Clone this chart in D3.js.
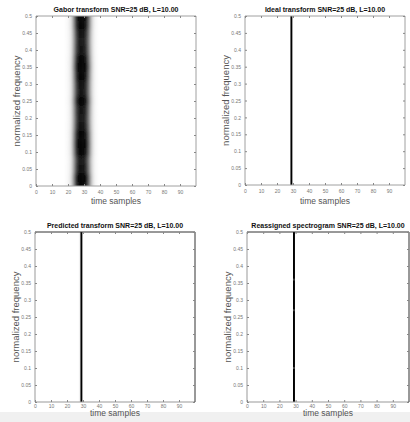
<!DOCTYPE html>
<html>
<head>
<meta charset="utf-8">
<script src="https://cdn.jsdelivr.net/npm/d3@7"></script>
<style>
  body { margin: 0; background: #fff; }
  svg { display: block; font-family: "Liberation Sans", Arial, sans-serif; }
</style>
</head>
<body>
<svg id="viz" width="410" height="422"></svg>
<script>
// chart data
const titles = [
    "Gabor transform SNR=25 dB, L=10.00",
    "Ideal transform SNR=25 dB, L=10.00",
    "Predicted transform SNR=25 dB, L=10.00",
    "Reassigned spectrogram SNR=25 dB, L=10.00"
];
const timeTicks = [0, 10, 20, 30, 40, 50, 60, 70, 80, 90];
const freqTicks = [0, 0.05, 0.1, 0.15, 0.2, 0.25, 0.3, 0.35, 0.4, 0.45, 0.5];
const timeDomain = [0, 100];
const freqDomain = [0, 0.5];

// gabor: energy across time samples (normalized)
const gaborTime = [18, 19, 20, 21, 22, 23, 24, 25, 26, 27, 28, 29, 30, 31, 32, 33, 34, 35, 36, 37, 38, 39];
const gaborAmp  = [0.01, 0.03, 0.06, 0.12, 0.22, 0.38, 0.58, 0.78, 0.92, 0.99, 1, 1, 0.98, 0.92, 0.8, 0.62, 0.44, 0.28, 0.15, 0.07, 0.03, 0.01];
// gabor: ripple along frequency
const gaborFreq = [0, 0.025, 0.05, 0.075, 0.1, 0.125, 0.15, 0.175, 0.2, 0.225, 0.25, 0.275, 0.3, 0.325, 0.35, 0.375, 0.4, 0.425, 0.45, 0.475, 0.5];
const gaborMod  = [0.96, 1, 0.88, 0.85, 0.96, 1, 0.96, 0.88, 0.85, 0.87, 0.94, 0.87, 0.88, 0.94, 1, 0.94, 0.87, 0.85, 0.88, 0.96, 1];

// the other three: a single ridge at sample 29
const ridgeTime = 29;
const predictedTime = [28, 29];
const predictedAmp  = [0.1, 1];
const reassignedGaps = [0.1, 0.27, 0.36];

const svg = d3.select("#viz");

// bottom strip
svg.append("rect").attr("x", 0).attr("y", 412).attr("width", 410).attr("height", 10).attr("fill", "#f0f0f0");

const boxes = [
    {x0: 36, x1: 196, y0: 16, y1: 186, ylx: 20, xly: 204, pad: 4, border: "#a0a0a0", top: "#a0a0a0"},
    {x0: 245, x1: 405, y0: 16, y1: 185, ylx: 229, xly: 204, pad: 4, border: "#a0a0a0", top: "#a0a0a0"},
    {x0: 35, x1: 195, y0: 232, y1: 402, ylx: 19, xly: 416, pad: 2, border: "#999", top: "#333"},
    {x0: 247, x1: 409, y0: 232, y1: 402, ylx: 231, xly: 416, pad: 2, border: "#999", top: "#333"}
];

const defs = svg.append("defs");
defs.append("filter").attr("id", "blur")
    .attr("x", "-20%").attr("y", "-20%").attr("width", "140%").attr("height", "140%")
    .append("feGaussianBlur").attr("stdDeviation", "1.2 2");

boxes.forEach((b, i) => {
    const x = d3.scaleLinear().domain(timeDomain).range([b.x0, b.x1]);
    const y = d3.scaleLinear().domain(freqDomain).range([b.y1, b.y0]);
    const g = svg.append("g");

    defs.append("clipPath").attr("id", "clip" + i)
        .append("rect").attr("x", b.x0).attr("y", b.y0)
        .attr("width", b.x1 - b.x0).attr("height", b.y1 - b.y0);

    const img = g.append("g").attr("clip-path", "url(#clip" + i + ")");

    if (i === 0) {
        const cells = [];
        gaborTime.forEach((t, ti) => gaborFreq.forEach((f, fi) => {
            cells.push({t: t, f: f, v: gaborAmp[ti] * gaborMod[fi]});
        }));
        img.append("g").attr("filter", "url(#blur)")
            .selectAll("rect").data(cells).enter().append("rect")
            .attr("x", d => x(d.t - 0.5))
            .attr("width", d => x(d.t + 0.5) - x(d.t - 0.5) + 0.3)
            .attr("y", d => y(d.f + 0.0125))
            .attr("height", d => y(d.f - 0.0125) - y(d.f + 0.0125) + 0.3)
            .attr("fill", d => d3.interpolateGreys(Math.min(1, d.v * 1.1)));
    } else {
        let cols = [{t: ridgeTime, v: 1}];
        if (i === 2) cols = predictedTime.map((t, k) => ({t: t, v: predictedAmp[k]}));
        img.selectAll("rect.col").data(cols).enter().append("rect")
            .attr("class", "col")
            .attr("x", d => x(d.t - 0.6))
            .attr("width", d => x(d.t + 0.6) - x(d.t - 0.6))
            .attr("y", y(freqDomain[1]))
            .attr("height", y(freqDomain[0]) - y(freqDomain[1]))
            .attr("fill", d => d3.interpolateGreys(d.v));
        if (i === 3) {
            img.selectAll("rect.gap").data(reassignedGaps).enter().append("rect")
                .attr("class", "gap")
                .attr("x", x(ridgeTime - 0.2)).attr("width", 0.6)
                .attr("y", d => y(d) - 1).attr("height", 2)
                .attr("fill", "#bbb");
        }
    }

    // box
    g.append("line").attr("x1", b.x0).attr("x2", b.x1).attr("y1", b.y1).attr("y2", b.y1).attr("stroke", b.border);
    g.append("line").attr("x1", b.x0).attr("x2", b.x0).attr("y1", b.y0).attr("y2", b.y1).attr("stroke", b.border);
    g.append("line").attr("x1", b.x0).attr("x2", b.x1).attr("y1", b.y0).attr("y2", b.y0).attr("stroke", b.top);
    g.append("line").attr("x1", b.x1).attr("x2", b.x1).attr("y1", b.y0).attr("y2", b.y1).attr("stroke", b.top);

    // axes, inward ticks
    const xAxis = d3.axisBottom(x).tickValues(timeTicks).tickSize(-2).tickPadding(b.pad).tickFormat(d3.format("d"));
    const yAxis = d3.axisLeft(y).tickValues(freqTicks).tickSize(-2).tickPadding(4).tickFormat(d => d === 0 ? "0" : String(+d.toFixed(2)));
    const xa = g.append("g").attr("transform", `translate(0,${b.y1})`).call(xAxis);
    const ya = g.append("g").attr("transform", `translate(${b.x0},0)`).call(yAxis);
    const xt = g.append("g").attr("transform", `translate(0,${b.y0})`).call(d3.axisTop(x).tickValues(timeTicks).tickSize(-2).tickFormat(""));
    const yr = g.append("g").attr("transform", `translate(${b.x1},0)`).call(d3.axisRight(y).tickValues(freqTicks).tickSize(-2).tickFormat(""));
    [xa, ya, xt, yr].forEach(a => {
        a.select(".domain").remove();
        a.selectAll(".tick line").attr("stroke", "#888");
        a.selectAll(".tick text").attr("fill", "#777").style("font-size", "5px").style("font-family", "Liberation Sans, sans-serif");
    });

    g.append("text")
        .attr("x", (b.x0 + b.x1) / 2).attr("y", b.y0 - 4)
        .attr("text-anchor", "middle")
        .style("font-size", "7px").style("font-weight", "bold")
        .attr("fill", "#111")
        .text(titles[i]);

    g.append("text")
        .attr("x", (b.x0 + b.x1) / 2).attr("y", b.xly)
        .attr("text-anchor", "middle")
        .style("font-size", "8.5px").attr("fill", "#555")
        .text("time samples");

    g.append("text")
        .attr("transform", `translate(${b.ylx},${(b.y0 + b.y1) / 2}) rotate(-90)`)
        .attr("text-anchor", "middle")
        .style("font-size", "9.5px").attr("fill", "#555")
        .text("normalized frequency");
});
</script>
</body>
</html>
